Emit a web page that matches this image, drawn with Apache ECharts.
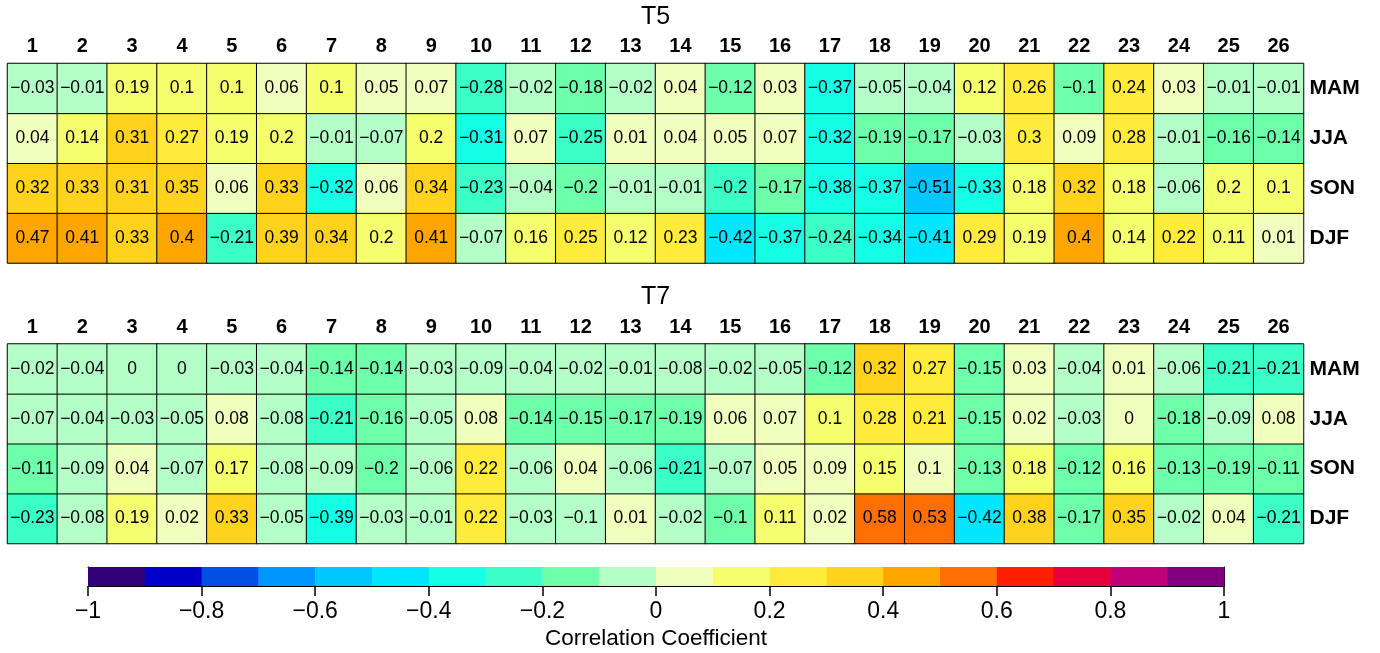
<!DOCTYPE html>
<html>
<head>
<meta charset="utf-8">
<script src="https://cdn.jsdelivr.net/npm/echarts@6/dist/echarts.min.js"></script>
<style>
html,body{margin:0;padding:0;background:#fff;}
#chart{width:1380px;height:653px;}
</style>
</head>
<body>
<div id="chart"></div>
<script>
// ---- data ----
const columns = ['1','2','3','4','5','6','7','8','9','10','11','12','13','14','15','16','17','18','19','20','21','22','23','24','25','26'];
const seasons = ['DJF','SON','JJA','MAM']; // bottom -> top
const panelTitles = ['T5','T7'];

// T5 (values estimated; extra digit where the colour shows which side of a bin edge the value lies)
const t5MAM = [-0.03,-0.01,0.19,0.101,0.101,0.06,0.101,0.05,0.07,-0.28,-0.02,-0.18,-0.02,0.04,-0.12,0.03,-0.37,-0.05,-0.04,0.12,0.26,-0.101,0.24,0.03,-0.01,-0.01];
const t5JJA = [0.04,0.14,0.31,0.27,0.19,0.199,-0.01,-0.07,0.199,-0.31,0.07,-0.25,0.01,0.04,0.05,0.07,-0.32,-0.19,-0.17,-0.03,0.299,0.09,0.28,-0.01,-0.16,-0.14];
const t5SON = [0.32,0.33,0.31,0.35,0.06,0.33,-0.32,0.06,0.34,-0.23,-0.04,-0.199,-0.01,-0.01,-0.201,-0.17,-0.38,-0.37,-0.51,-0.33,0.18,0.32,0.18,-0.06,0.199,0.101];
const t5DJF = [0.47,0.41,0.33,0.401,-0.21,0.39,0.34,0.199,0.41,-0.07,0.16,0.25,0.12,0.23,-0.42,-0.37,-0.24,-0.34,-0.41,0.29,0.19,0.401,0.14,0.22,0.11,0.01];

// T7
const t7MAM = [-0.02,-0.04,-0.001,-0.001,-0.03,-0.04,-0.14,-0.14,-0.03,-0.09,-0.04,-0.02,-0.01,-0.08,-0.02,-0.05,-0.12,0.32,0.27,-0.15,0.03,-0.04,0.01,-0.06,-0.21,-0.21];
const t7JJA = [-0.07,-0.04,-0.03,-0.05,0.08,-0.08,-0.21,-0.16,-0.05,0.08,-0.14,-0.15,-0.17,-0.19,0.06,0.07,0.101,0.28,0.21,-0.15,0.02,-0.03,0.001,-0.18,-0.09,0.08];
const t7SON = [-0.11,-0.09,0.04,-0.07,0.17,-0.08,-0.09,-0.199,-0.06,0.22,-0.06,0.04,-0.06,-0.21,-0.07,0.05,0.09,0.15,0.099,-0.13,0.18,-0.12,0.16,-0.13,-0.19,-0.11];
const t7DJF = [-0.23,-0.08,0.19,0.02,0.33,-0.05,-0.39,-0.03,-0.01,0.22,-0.03,-0.099,0.01,-0.02,-0.101,0.11,0.02,0.58,0.53,-0.42,0.38,-0.17,0.35,-0.02,0.04,-0.21];

// colour scale: 20 bins from -1 to 1
const binEdges = [-1,-0.9,-0.8,-0.7,-0.6,-0.5,-0.4,-0.3,-0.2,-0.1,0,0.1,0.2,0.3,0.4,0.5,0.6,0.7,0.8,0.9,1];
const binColors = ['#320078','#0000C8','#0050E6','#0096FF','#00C8FF','#00E6FF','#14FFE6','#3CFFC8','#6EFFAA','#B4FFC8',
                   '#F0FFBE','#F5FF6E','#FFEB3C','#FFD21E','#FFA500','#FF6E00','#FF1E00','#E6003C','#C00078','#800080'];
const colorbarTicks = [-1,-0.8,-0.6,-0.4,-0.2,0,0.2,0.4,0.6,0.8,1];
const colorbarName = 'Correlation Coefficient';

// ---- build ----
const panels = [[t5DJF,t5SON,t5JJA,t5MAM],[t7DJF,t7SON,t7JJA,t7MAM]];
function toCells(rows){
  const out=[];
  rows.forEach((row,yi)=>row.forEach((v,xi)=>out.push([xi,yi,v])));
  return out;
}
function fmt(v){
  let s = String(Number(Number(v).toFixed(2)));
  if (s === '-0') s = '0';
  return s.replace('-', '\u2212');
}
const FONT = '"Liberation Sans", Arial, Helvetica, sans-serif';

const gridLeft = 7.5, gridWidth = 1296, gridH = 199.5;
const gridTops = [63.5, 344];

const pieces = [];
for (let i=0;i<binColors.length;i++){
  pieces.push({gte: binEdges[i], lt: binEdges[i+1], color: binColors[i]});
}
pieces[pieces.length-1].lte = 1; delete pieces[pieces.length-1].lt;

const option = {
  backgroundColor:'#fff',
  animation:false,
  title: panelTitles.map((t,i)=>({
    text:t, left: gridLeft+gridWidth/2, textAlign:'center', top: gridTops[i]-59, padding:0,
    textStyle:{fontFamily:FONT, fontSize:25, fontWeight:'normal', color:'#000', lineHeight:25}
  })),
  grid: [
    {left:gridLeft, top:gridTops[0], width:gridWidth, height:gridH},
    {left:gridLeft, top:gridTops[1], width:gridWidth, height:gridH},
    {left:88, top:567, width:1136, height:19}
  ],
  xAxis: [
    ...[0,1].map(g=>({
      type:'category', gridIndex:g, data:columns, position:'top',
      axisLine:{show:false}, axisTick:{show:false}, splitLine:{show:false},
      axisLabel:{fontFamily:FONT, fontSize:20, fontWeight:'bold', color:'#000', margin:7}
    })),
    {type:'value', gridIndex:2, min:-1, max:1, interval:0.2, position:'bottom',
     axisLine:{show:true, onZero:false, lineStyle:{color:'#000', width:1}},
     axisTick:{show:true, length:10, inside:false, lineStyle:{color:'#000', width:1.5}},
     splitLine:{show:false},
     axisLabel:{fontFamily:FONT, fontSize:23, color:'#000', margin:14,
       formatter:(v)=> colorbarTicks.some(t=>Math.abs(t-v)<1e-9) ? fmt(v) : ''},
     name: colorbarName, nameLocation:'middle', nameGap:41,
     nameTextStyle:{fontFamily:FONT, fontSize:22.5, color:'#000'}},
    {type:'value', gridIndex:2, min:-1, max:1, position:'top',
     axisLine:{show:true, onZero:false, lineStyle:{color:'#000', width:1}},
     axisTick:{show:false}, axisLabel:{show:false}, splitLine:{show:false}}
  ],
  yAxis: [
    ...[0,1].map(g=>({
      type:'category', gridIndex:g, data:seasons, position:'right',
      axisLine:{show:false}, axisTick:{show:false}, splitLine:{show:false},
      axisLabel:{fontFamily:FONT, fontSize:21, fontWeight:'bold', color:'#000', margin:6}
    })),
    {type:'value', gridIndex:2, min:0, max:1, position:'left',
     axisLine:{show:true, onZero:false, lineStyle:{color:'#000', width:1}},
     axisTick:{show:false}, axisLabel:{show:false}, splitLine:{show:false}},
    {type:'value', gridIndex:2, min:0, max:1, position:'right',
     axisLine:{show:true, onZero:false, lineStyle:{color:'#000', width:1}},
     axisTick:{show:false}, axisLabel:{show:false}, splitLine:{show:false}}
  ],
  visualMap: {
    type:'piecewise', show:false, seriesIndex:[0,1], dimension:2, pieces:pieces
  },
  series: [
    ...panels.map((rows,g)=>({
      type:'heatmap', xAxisIndex:g, yAxisIndex:g, data:toCells(rows),
      itemStyle:{borderColor:'#000', borderWidth:1},
      label:{show:true, fontFamily:FONT, fontSize:17.5, color:'#000', formatter:(p)=>fmt(p.value[2])},
      emphasis:{disabled:true}
    })),
    {
      type:'custom', xAxisIndex:2, yAxisIndex:2, z:1,
      data: binEdges.slice(0,-1).map((lo,i)=>[lo, binEdges[i+1]]),
      renderItem:(params, api)=>{
        const p0 = api.coord([api.value(0), 1]);
        const p1 = api.coord([api.value(1), 0]);
        return {type:'rect', shape:{x:p0[0], y:p0[1], width:p1[0]-p0[0]+0.5, height:p1[1]-p0[1]},
                style:{fill: binColors[params.dataIndex]}};
      }
    }
  ]
};
const chart = echarts.init(document.getElementById('chart'), null, {renderer:'canvas'});
chart.setOption(option);
</script>
</body>
</html>
